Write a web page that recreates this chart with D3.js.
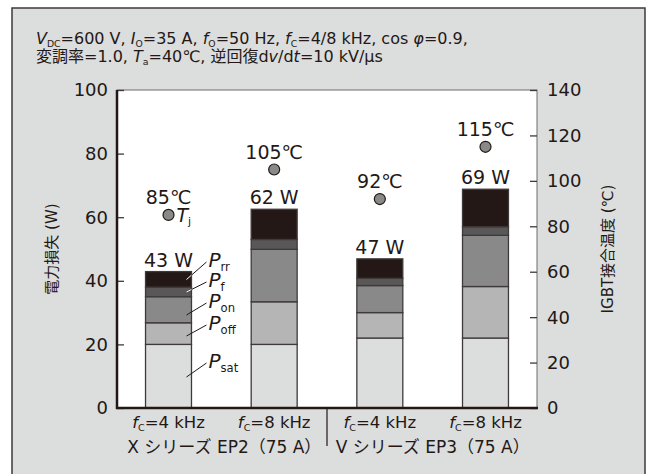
<!DOCTYPE html>
<html lang="ja">
<head>
<meta charset="utf-8">
<title>IGBT loss</title>
<script src="https://cdn.jsdelivr.net/npm/d3@7"></script>
<style>
  body { margin: 0; background: #fff; }
  svg text { font-family: "DejaVu Sans", "Noto Sans CJK JP", sans-serif; fill: #231815; }
</style>
</head>
<body>
<script>
// data
const categories = ["X4", "X8", "V4", "V8"];
const fcLabels = ["4 kHz", "8 kHz", "4 kHz", "8 kHz"];
const seriesLabels = ["X シリーズ EP2（75 A）", "V シリーズ EP3（75 A）"];
const pSat = [20, 20, 22, 22];
const pOff = [6.8, 13.4, 8, 16.2];
const pOn = [8.2, 16.5, 8.5, 16.1];
const pF = [3.0, 3.1, 2.3, 2.7];
const pRr = [4.9, 9.5, 6.1, 11.8];
const totalLabels = ["43 W", "62 W", "47 W", "69 W"];
const tempJ = [85, 105, 92, 115];
const lossTicks = [0, 20, 40, 60, 80, 100];
const tempTicks = [0, 20, 40, 60, 80, 100, 120, 140];
const layerNames = ["sat", "off", "on", "f", "rr"];
const layerColors = ["#dcdddd", "#b5b5b6", "#898989", "#595757", "#231815"];

let w = 651, h = 474;
let pLeft = 117, pRight = 537, pTop = 90, pBottom = 408;

let svg = d3.select("body").append("svg").attr("width", w).attr("height", h);

// outer panel
svg.append("rect").attr("x", 12).attr("y", 8).attr("width", 633).attr("height", 480)
  .attr("fill", "#dcdddd").attr("stroke", "#3e3a39").attr("stroke-width", 1.5);
svg.append("rect").attr("x", pLeft).attr("y", pTop).attr("width", pRight - pLeft).attr("height", pBottom - pTop)
  .attr("fill", "#fff").attr("stroke", "#6f6b6a").attr("stroke-width", 1);

let x = d3.scaleBand().domain(categories).range([pLeft, pRight]).paddingInner(0.565).paddingOuter(0.27);
let y = d3.scaleLinear().domain([0, 100]).range([pBottom, pTop]);
let yT = d3.scaleLinear().domain([0, 140]).range([pBottom, pTop]);

// rich text helper: parts = [{t, i, s}]
function rich(sel, parts, size) {
  let shifted = false;
  parts.forEach(p => {
    let t = sel.append("tspan").text(p.t);
    if (p.i) t.style("font-style", "italic");
    if (p.s) {
      t.attr("font-size", size * 0.58).attr("dy", size * 0.18);
      shifted = true;
    } else if (shifted) {
      t.attr("dy", -size * 0.18);
      shifted = false;
    }
  });
  return sel;
}

// conditions
let t1 = svg.append("text").attr("x", 36).attr("y", 44).attr("font-size", 16);
rich(t1, [{t: "V", i: 1}, {t: "DC", s: 1}, {t: "=600 V, "}, {t: "I", i: 1}, {t: "O", s: 1}, {t: "=35 A, "},
  {t: "f", i: 1}, {t: "O", s: 1}, {t: "=50 Hz, "}, {t: "f", i: 1}, {t: "C", s: 1}, {t: "=4/8 kHz, cos "},
  {t: "φ", i: 1}, {t: "=0.9,"}], 16);
let t2 = svg.append("text").attr("x", 36).attr("y", 62).attr("font-size", 16);
rich(t2, [{t: "変調率=1.0, "}, {t: "T", i: 1}, {t: "a", s: 1}, {t: "=40℃,  逆回復d"}, {t: "v", i: 1},
  {t: "/d"}, {t: "t", i: 1}, {t: "=10 kV/μs"}], 16);

// stacked bars
let stackData = categories.map((c, i) => ({cat: c, sat: pSat[i], off: pOff[i], on: pOn[i], f: pF[i], rr: pRr[i]}));
let series = d3.stack().keys(layerNames)(stackData);
series.forEach((s, k) => {
  svg.append("g").selectAll("rect").data(s).join("rect")
    .attr("x", d => x(d.data.cat))
    .attr("y", d => y(d[1]))
    .attr("width", x.bandwidth())
    .attr("height", d => y(d[0]) - y(d[1]))
    .attr("fill", layerColors[k])
    .attr("stroke", "#3e3a39").attr("stroke-width", 1.3);
});

// axes
let gl = svg.append("g").attr("transform", `translate(${pLeft},0)`)
  .call(d3.axisRight(y).tickValues(lossTicks).tickSize(7).tickFormat(""));
gl.select(".domain").remove();
gl.selectAll("line").attr("stroke", "#3e3a39").attr("stroke-width", 1.3);
svg.append("g").selectAll("text").data(lossTicks).join("text")
  .attr("x", 108).attr("y", d => y(d)).attr("dy", "0.36em")
  .attr("text-anchor", "end").attr("font-size", 18).text(d => d);

let gr = svg.append("g").attr("transform", `translate(${pRight},0)`)
  .call(d3.axisLeft(yT).tickValues(tempTicks).tickSize(7).tickFormat(""));
gr.select(".domain").remove();
gr.selectAll("line").attr("stroke", "#3e3a39").attr("stroke-width", 1.3);
svg.append("g").selectAll("text").data(tempTicks).join("text")
  .attr("x", 547).attr("y", d => yT(d)).attr("dy", "0.36em")
  .attr("text-anchor", "start").attr("font-size", 18).text(d => d);

svg.append("line").attr("x1", pLeft).attr("x2", pLeft).attr("y1", pTop).attr("y2", pBottom + 1)
  .attr("stroke", "#231815").attr("stroke-width", 2.5);
svg.append("line").attr("x1", pLeft - 1).attr("x2", pRight + 1).attr("y1", pBottom).attr("y2", pBottom)
  .attr("stroke", "#231815").attr("stroke-width", 2.5);

// axis titles
svg.append("text").attr("transform", `translate(57,${(pTop + pBottom) / 2}) rotate(-90)`)
  .attr("text-anchor", "middle").attr("font-size", 15).text("電力損失 (W)");
svg.append("text").attr("transform", `translate(613,${(pTop + pBottom) / 2}) rotate(-90)`)
  .attr("text-anchor", "middle").attr("font-size", 15).text("IGBT接合温度 (℃)");

// totals
svg.append("g").selectAll("text").data(categories).join("text")
  .attr("x", d => x(d) + x.bandwidth() / 2)
  .attr("y", (d, i) => y(pSat[i] + pOff[i] + pOn[i] + pF[i] + pRr[i]) - 5)
  .attr("text-anchor", "middle").attr("font-size", 19)
  .text((d, i) => totalLabels[i]);

// junction temperature
svg.append("g").selectAll("circle").data(categories).join("circle")
  .attr("cx", d => x(d) + x.bandwidth() / 2)
  .attr("cy", (d, i) => yT(tempJ[i]))
  .attr("r", 5.5).attr("fill", "#898989").attr("stroke", "#231815").attr("stroke-width", 1.2);
svg.append("g").selectAll("text").data(categories).join("text")
  .attr("x", d => x(d) + x.bandwidth() / 2)
  .attr("y", (d, i) => yT(tempJ[i]) - 11)
  .attr("text-anchor", "middle").attr("font-size", 19)
  .text((d, i) => tempJ[i] + "℃");
let cx0 = x(categories[0]) + x.bandwidth() / 2;
let tj = svg.append("text").attr("x", cx0 + 8).attr("y", yT(tempJ[0]) + 7).attr("font-size", 19);
rich(tj, [{t: "T", i: 1}, {t: "j", s: 1}], 19);

// callouts for first bar
let bx = x(categories[0]);
let labelY = [368, 330, 308, 287, 267];
let anchorY = [377, 336, 315, 292, 279.5];
series.forEach((s, k) => {
  let x1 = bx + x.bandwidth() - 5, y1 = anchorY[k], x2 = bx + x.bandwidth() + 15, y2 = labelY[k] - 5;
  svg.append("line").attr("x1", x1).attr("y1", y1).attr("x2", x2).attr("y2", y2)
    .attr("stroke", "#231815").attr("stroke-width", 1);
  if (k >= 3) {
    let frac = 5 / 20;
    svg.append("line").attr("x1", x1).attr("y1", y1)
      .attr("x2", x1 + (x2 - x1) * frac).attr("y2", y1 + (y2 - y1) * frac)
      .attr("stroke", "#fff").attr("stroke-width", 1);
  }
  let t = svg.append("text").attr("x", bx + x.bandwidth() + 17).attr("y", labelY[k]).attr("font-size", 20);
  rich(t, [{t: "P", i: 1}, {t: layerNames[k], s: 1}], 20);
});

// x labels
svg.append("g").selectAll("text").data(categories).join("text")
  .attr("x", d => x(d) + x.bandwidth() / 2).attr("y", 428)
  .attr("text-anchor", "middle").attr("font-size", 16.5)
  .each(function (d, i) {
    rich(d3.select(this), [{t: "f", i: 1}, {t: "C", s: 1}, {t: "=" + fcLabels[i]}], 16.5);
  });
let mid = (x(categories[1]) + x.bandwidth() + x(categories[2])) / 2;
svg.append("line").attr("x1", mid).attr("x2", mid).attr("y1", pBottom).attr("y2", 446)
  .attr("stroke", "#231815").attr("stroke-width", 1.2);
svg.append("text").attr("x", (x(categories[0]) + x(categories[1]) + x.bandwidth()) / 2 + 3).attr("y", 453)
  .attr("text-anchor", "middle").attr("font-size", 17).text(seriesLabels[0]);
svg.append("text").attr("x", (x(categories[2]) + x(categories[3]) + x.bandwidth()) / 2).attr("y", 453)
  .attr("text-anchor", "middle").attr("font-size", 17).text(seriesLabels[1]);
</script>
</body>
</html>
